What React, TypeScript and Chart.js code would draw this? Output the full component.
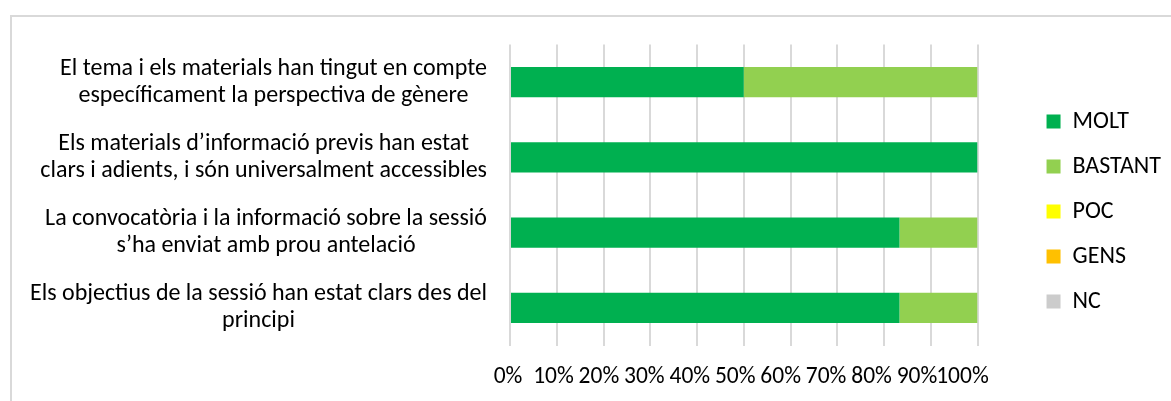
import React, { useEffect, useRef } from "react";
import { Chart, registerables } from "chart.js";

Chart.register(...registerables);

const categories: string[][] = [
  ["El tema i els materials han tingut en compte", "específicament la perspectiva de gènere"],
  ["Els materials d’informació previs han estat", "clars i adients, i són universalment accessibles"],
  ["La convocatòria i la informació sobre la sessió", "s’ha enviat amb prou antelació"],
  ["Els objectius de la sessió han estat clars des del", "principi"],
];
const seriesNames = ["MOLT", "BASTANT", "POC", "GENS", "NC"];
const molt = [50, 100, 83.3, 83.3];
const bastant = [50, 0, 16.7, 16.7];
const poc = [0, 0, 0, 0];
const gens = [0, 0, 0, 0];
const nc = [0, 0, 0, 0];
const seriesColors = ["#00B050", "#92D050", "#FFFF00", "#FFC000", "#CCCCCC"];
const xTickValues = [0, 10, 20, 30, 40, 50, 60, 70, 80, 90, 100];

const FONT = "Carlito, Lato, 'Open Sans', sans-serif";
const LABEL_SIZE = 24;
const TICK_SIZE = 23.5;

const yLabelPlugin = {
  id: "yLabelsBlock",
  afterDraw(chart: any) {
    const ctx = chart.ctx;
    const y = chart.scales.y;
    const area = chart.chartArea;
    ctx.save();
    ctx.font = `${LABEL_SIZE}px ${FONT}`;
    ctx.fillStyle = "#000";
    ctx.textAlign = "center";
    ctx.textBaseline = "middle";
    const lh = 27;
    categories.forEach((lines, i) => {
      const cy = y.getPixelForValue(i);
      const w = Math.max(...lines.map((l) => ctx.measureText(l).width));
      const cx = area.left - 23 - w / 2;
      lines.forEach((line, j) => {
        ctx.fillText(line, cx, cy + (j - (lines.length - 1) / 2) * lh);
      });
    });
    ctx.restore();
  },
};

const xLabelPlugin = {
  id: "xLabelsExcel",
  afterDraw(chart: any) {
    const ctx = chart.ctx;
    const x = chart.scales.x;
    const area = chart.chartArea;
    ctx.save();
    ctx.font = `${TICK_SIZE}px ${FONT}`;
    ctx.fillStyle = "#000";
    ctx.textAlign = "center";
    ctx.textBaseline = "middle";
    xTickValues.forEach((v) => {
      const px = x.getPixelForValue(v);
      const lx = area.left - 2 + (px - area.left) * 0.972;
      ctx.fillText(`${v}%`, lx, area.bottom + 32);
    });
    ctx.restore();
  },
};

export default function App() {
  const canvasRef = useRef<HTMLCanvasElement | null>(null);

  useEffect(() => {
    if (!canvasRef.current) return;
    const allSeries = [molt, bastant, poc, gens, nc];
    const chart = new Chart(canvasRef.current, {
      type: "bar",
      data: {
        labels: categories.map((c) => c.join(" ")),
        datasets: seriesNames.map((name, i) => ({
          label: name,
          data: allSeries[i],
          backgroundColor: seriesColors[i],
          borderWidth: 0,
          barPercentage: 0.8,
          categoryPercentage: 0.5,
          xAxisID: "x",
          yAxisID: "y",
        })),
      },
      options: {
        indexAxis: "y",
        responsive: false,
        animation: false,
        devicePixelRatio: 1,
        layout: { padding: { left: 510, top: 22, right: 0, bottom: 0 } },
        plugins: {
          tooltip: { enabled: false },
          legend: {
            position: "right",
            align: "center",
            labels: {
              boxWidth: 14,
              boxHeight: 14,
              padding: 21,
              color: "#000",
              font: { family: FONT, size: 24 },
            },
          },
        },
        scales: {
          y: {
            type: "category",
            stacked: true,
            display: false,
          },
          x: {
            type: "linear",
            stacked: true,
            min: 0,
            max: 100,
            position: "bottom",
            ticks: { display: false, stepSize: 10 },
            grid: { color: "#D9D9D9", lineWidth: 2, drawTicks: false },
            border: { display: false },
            afterFit: (s: any) => {
              s.height = 55.5;
            },
          },
          xTop: {
            type: "linear",
            axis: "x",
            position: "top",
            display: true,
            ticks: { display: false },
            grid: { display: false, drawTicks: false },
            border: { display: false },
            afterFit: (s: any) => {
              s.height = 22.5;
            },
          },
          yRight: {
            type: "linear",
            axis: "y",
            position: "right",
            display: true,
            ticks: { display: false },
            grid: { display: false, drawTicks: false },
            border: { display: false },
            afterFit: (s: any) => {
              s.width = 48;
            },
          },
        },
      } as any,
      plugins: [yLabelPlugin, xLabelPlugin],
    });
    return () => chart.destroy();
  }, []);

  return (
    <div style={{ position: "absolute", left: 0, top: 0, width: 1171, height: 401, overflow: "hidden", background: "#fff" }}>
      <div
        style={{
          position: "absolute",
          left: 10,
          top: 15,
          width: 1300,
          height: 600,
          borderTop: "2px solid #D9D9D9",
          borderLeft: "2px solid #D9D9D9",
          boxSizing: "border-box",
        }}
      />
      <canvas ref={canvasRef} width={1171} height={401} style={{ position: "absolute", left: 0, top: 0 }} />
    </div>
  );
}
